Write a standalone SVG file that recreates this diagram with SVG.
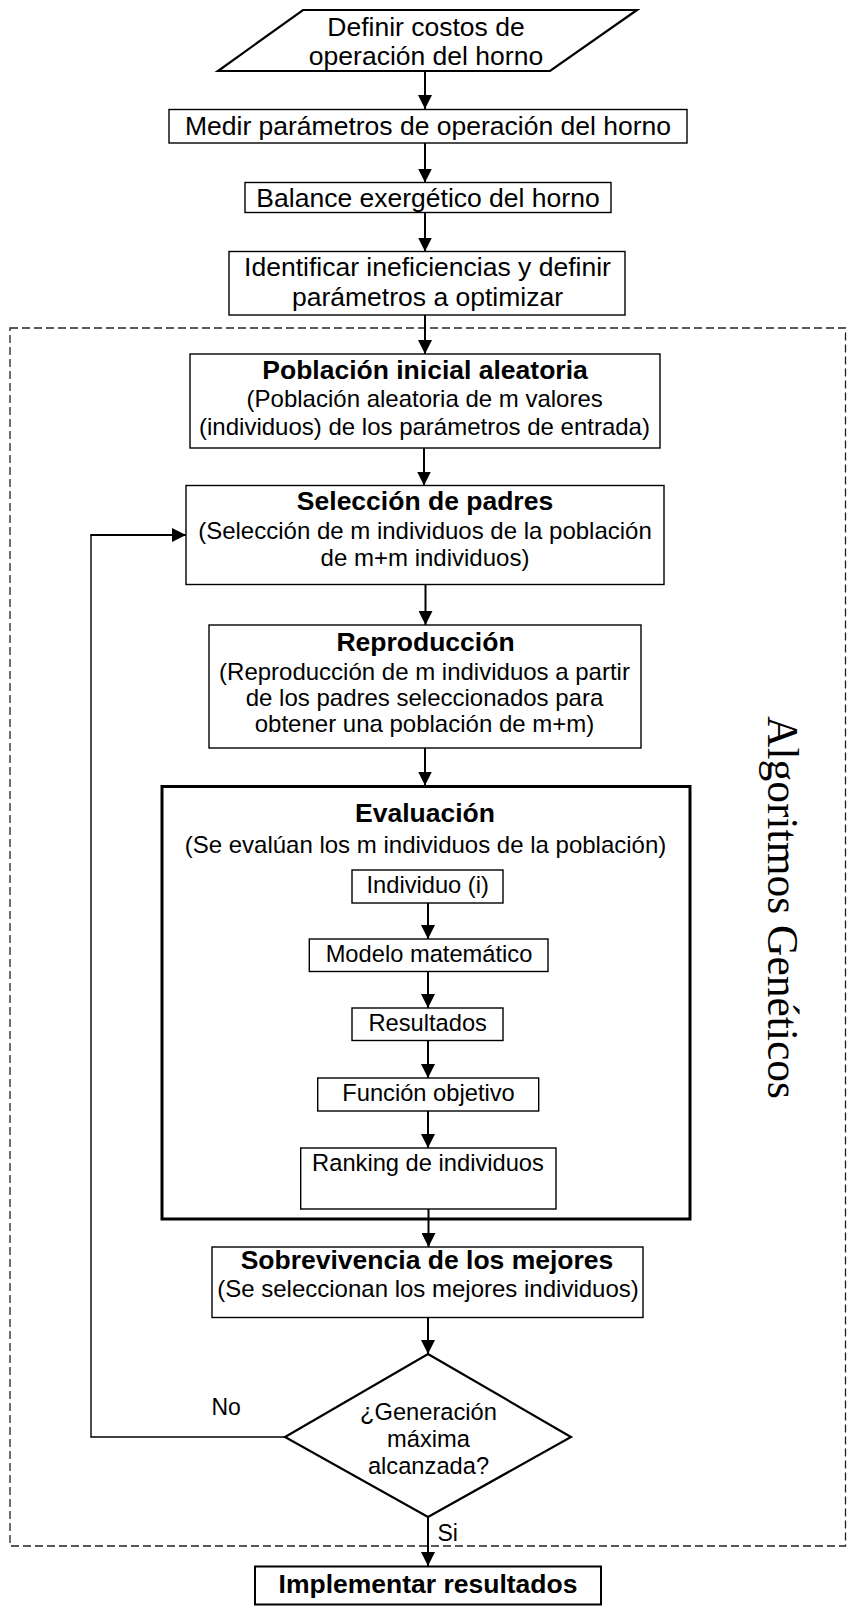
<svg xmlns="http://www.w3.org/2000/svg" width="852" height="1606" viewBox="0 0 852 1606">
<style>
text{font-family:"Liberation Sans",Arial,sans-serif;fill:#000;text-anchor:middle}
.t{font-size:26.5px}
.b{font-size:26.5px;font-weight:bold}
.s{font-size:24px}
.i{font-size:23.7px}
.l{font-size:23px;text-anchor:start}
.box{fill:#fff;stroke:#000;stroke-width:1.4}
.thick{fill:none;stroke:#000;stroke-width:3}
.shape{fill:#fff;stroke:#000;stroke-width:2.2}
.c{fill:none;stroke:#000;stroke-width:2}
.c1{fill:none;stroke:#000;stroke-width:1.4}
.dash{fill:none;stroke:#222;stroke-width:1.3;stroke-dasharray:8 4}
.ag{font-family:"Liberation Serif","Times New Roman",serif;font-size:43.5px}
</style>
<defs>
<marker id="arr" markerUnits="userSpaceOnUse" markerWidth="14" markerHeight="14" refX="14" refY="7" orient="auto">
<path d="M0,0 L14,7 L0,14 z" fill="#000"/>
</marker>
</defs>
<rect width="852" height="1606" fill="#fff"/>

<g id="group-ag">
<rect class="dash" x="10" y="328" width="835.5" height="1218"/>
<text class="ag" x="768" y="907.5" transform="rotate(90 768 907.5)">Algoritmos Genéticos</text>
</g>

<g id="evaluacion">
<rect class="thick" x="162" y="786.5" width="528" height="432.5"/>
<text class="b" x="425" y="822">Evaluación</text>
<text class="s" x="425.5" y="853">(Se evalúan los m individuos de la población)</text>
</g>

<g id="connectors">
<line class="c" x1="425" y1="71" x2="425" y2="109" marker-end="url(#arr)"/>
<line class="c" x1="425" y1="143" x2="425" y2="182.5" marker-end="url(#arr)"/>
<line class="c" x1="425" y1="212.5" x2="425" y2="251.5" marker-end="url(#arr)"/>
<line class="c" x1="425" y1="315" x2="425" y2="354" marker-end="url(#arr)"/>
<line class="c" x1="424" y1="448" x2="424" y2="485.5" marker-end="url(#arr)"/>
<line class="c" x1="425.5" y1="584.5" x2="425.5" y2="625" marker-end="url(#arr)"/>
<line class="c" x1="425" y1="748" x2="425" y2="785.5" marker-end="url(#arr)"/>
<line class="c" x1="428" y1="903" x2="428" y2="939" marker-end="url(#arr)"/>
<line class="c" x1="428" y1="971.5" x2="428" y2="1008" marker-end="url(#arr)"/>
<line class="c" x1="428" y1="1040.5" x2="428" y2="1078" marker-end="url(#arr)"/>
<line class="c" x1="428" y1="1111" x2="428" y2="1148" marker-end="url(#arr)"/>
<line class="c" x1="428.5" y1="1209" x2="428.5" y2="1247" marker-end="url(#arr)"/>
<line class="c" x1="428" y1="1317.5" x2="428" y2="1354" marker-end="url(#arr)"/>
<line class="c" x1="428" y1="1517" x2="428" y2="1566" marker-end="url(#arr)"/>
<polyline class="c1" points="285,1437 91,1437 91,535"/>
<line class="c" x1="90.3" y1="535" x2="186" y2="535" marker-end="url(#arr)"/>
<text class="l" x="211.5" y="1414.5">No</text>
<text class="l" x="437.5" y="1541">Si</text>
</g>

<g id="definir">
<polygon class="shape" points="303,10 637,10 550,71 218,71"/>
<text class="t" x="426" y="35.5">Definir costos de</text>
<text class="t" x="426" y="65">operación del horno</text>
</g>

<g id="medir">
<rect class="box" x="169" y="109.5" width="518" height="33.5"/>
<text class="t" x="428" y="134.5">Medir parámetros de operación del horno</text>
</g>

<g id="balance">
<rect class="box" x="245" y="182.5" width="366" height="30"/>
<text class="t" x="428" y="207">Balance exergético del horno</text>
</g>

<g id="identificar">
<rect class="box" x="229" y="251.5" width="396" height="63.5"/>
<text class="t" x="427.5" y="276">Identificar ineficiencias y definir</text>
<text class="t" x="427.5" y="305.5">parámetros a optimizar</text>
</g>

<g id="poblacion">
<rect class="box" x="190" y="354" width="470" height="94"/>
<text class="b" x="425" y="378.5">Población inicial aleatoria</text>
<text class="s" x="424.7" y="407">(Población aleatoria de m valores</text>
<text class="s" x="424.5" y="434.5">(individuos) de los parámetros de entrada)</text>
</g>

<g id="seleccion">
<rect class="box" x="186" y="485.5" width="478" height="99"/>
<text class="b" x="425" y="510">Selección de padres</text>
<text class="s" x="425" y="538.5">(Selección de m individuos de la población</text>
<text class="s" x="425" y="566">de m+m individuos)</text>
</g>

<g id="reproduccion">
<rect class="box" x="209" y="625" width="432" height="123"/>
<text class="b" x="425.5" y="650.5">Reproducción</text>
<text class="s" x="424.5" y="679.5">(Reproducción de m individuos a partir</text>
<text class="s" x="424.5" y="706">de los padres seleccionados para</text>
<text class="s" x="424.5" y="732">obtener una población de m+m)</text>
</g>

<g id="individuo">
<rect class="box" x="352" y="870" width="151" height="33"/>
<text class="i" x="427.7" y="893">Individuo (i)</text>
</g>

<g id="modelo">
<rect class="box" x="309.3" y="939" width="238.7" height="32.5"/>
<text class="i" x="429" y="961.5">Modelo matemático</text>
</g>

<g id="resultados">
<rect class="box" x="352" y="1008" width="151" height="32.5"/>
<text class="i" x="427.7" y="1030.5">Resultados</text>
</g>

<g id="funcion">
<rect class="box" x="317.7" y="1078" width="221" height="33"/>
<text class="i" x="428.5" y="1100.5">Función objetivo</text>
</g>

<g id="ranking">
<rect class="box" x="300.7" y="1148" width="255.3" height="61"/>
<text class="i" x="428" y="1171">Ranking de individuos</text>
</g>

<g id="sobrevivencia">
<rect class="box" x="212" y="1247" width="431" height="70.5"/>
<text class="b" x="427" y="1269">Sobrevivencia de los mejores</text>
<text class="s" x="428" y="1296.5">(Se seleccionan los mejores individuos)</text>
</g>

<g id="decision">
<polygon class="shape" points="428,1354 571,1437 428,1517 285,1437"/>
<text class="i" x="428.5" y="1420">¿Generación</text>
<text class="i" x="428.5" y="1447">máxima</text>
<text class="i" x="428.5" y="1474">alcanzada?</text>
</g>

<g id="implementar">
<rect class="shape" x="255" y="1566.5" width="346" height="38" style="stroke-width:2"/>
<text class="b" x="428" y="1593">Implementar resultados</text>
</g>
</svg>
